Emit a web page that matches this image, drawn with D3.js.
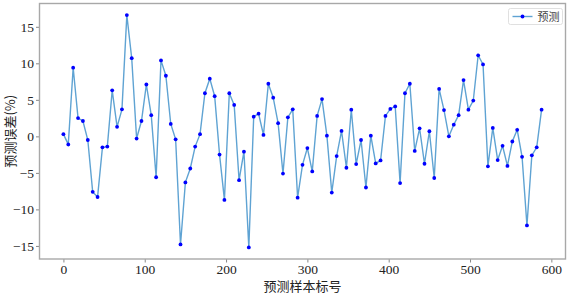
<!DOCTYPE html>
<html>
<head>
<meta charset="utf-8">
<script src="https://cdn.jsdelivr.net/npm/d3@7"></script>
<style>
  body { margin: 0; background: #fff; }
  svg { display: block; }
</style>
</head>
<body>
<svg id="chart" width="578" height="296"></svg>
<script>
// prediction error (%) per test sample, one point every 6 samples
var errors = [
    0.3, -1.1, 9.4, 2.5, 2.1, -0.5, -7.6, -8.3, -1.5, -1.4,
    6.3, 1.3, 3.7, 16.6, 10.7, -0.3, 2.1, 7.1, 2.9, -5.6,
    10.4, 8.3, 1.7, -0.4, -14.8, -6.3, -4.4, -1.4, 0.3, 5.9,
    7.9, 5.5, -2.5, -8.7, 5.9, 4.3, -6.0, -2.1, -15.2, 2.7,
    3.1, 0.2, 7.2, 5.3, 1.8, -5.1, 2.6, 3.7, -8.4, -3.9,
    -1.6, -4.8, 2.8, 5.1, 0.1, -7.7, -2.7, 0.75, -4.3, 3.65,
    -3.8, -0.5, -7.0, 0.1, -3.7, -3.3, 2.8, 3.75, 4.1, -6.4,
    5.9, 7.2, -2.0, 1.1, -3.75, 0.7, -5.7, 6.5, 3.6, 0.0,
    1.6, 2.9, 7.7, 3.65, 4.9, 11.1, 9.85, -4.1, 1.15, -3.25,
    -1.3, -4.05, -0.7, 0.9, -2.8, -12.2, -2.6, -1.5, 3.65
];
var sampleStep = 6;
var xTicks = [ 0, 100, 200, 300, 400, 500, 600 ];
var yTicks = [ -15, -10, -5, 0, 5, 10, 15 ];
var seriesName = "预测";
var xLabel = "预测样本标号";
var yLabel = "预测误差(%)";

var svg = d3.select( "#chart" ),
    margin = { left: 39.5, right: 12.5, top: 3.5, bottom: 37 },
    w = 578 - margin.left - margin.right,
    h = 296 - margin.top - margin.bottom;

var points = errors.map( function( v, i ) {
    return { x: i * sampleStep, y: v };
});

// matplotlib style 5% padding on both axes
function padded( ext ) {
    var p = ( ext[ 1 ] - ext[ 0 ] ) * 0.05;
    return [ ext[ 0 ] - p, ext[ 1 ] + p ];
}

var xScale = d3.scaleLinear()
    .domain( padded( d3.extent( points, function( d ) { return d.x; } ) ) )
    .range( [ 0, w ] );

var yScale = d3.scaleLinear()
    .domain( padded( d3.extent( errors ) ) )
    .range( [ h, 0 ] );

var g = svg.append( "g" ).attr( "transform", "translate(" + margin.left + "," + margin.top + ")" );

var xAxis = g.append( "g" )
    .attr( "transform", "translate(0," + h + ")" )
    .call( d3.axisBottom( xScale ).tickValues( xTicks ).tickSize( 3.5 ).tickPadding( 2 ) );

var yAxis = g.append( "g" )
    .call( d3.axisLeft( yScale ).tickValues( yTicks ).tickSize( 3.5 ).tickPadding( 2 ) );

[ xAxis, yAxis ].forEach( function( a ) {
    a.select( ".domain" ).remove();
    a.selectAll( ".tick line" ).attr( "stroke", "#888" );
    a.selectAll( ".tick text" )
        .style( "font-family", "'Times New Roman', 'Liberation Serif', serif" )
        .style( "font-size", "13.5px" )
        .attr( "fill", "#222" );
});

var line = d3.line()
    .x( function( d ) { return xScale( d.x ); } )
    .y( function( d ) { return yScale( d.y ); } );

g.append( "path" )
    .datum( points )
    .attr( "d", line )
    .attr( "fill", "none" )
    .attr( "stroke", "#5fa3d3" )
    .attr( "stroke-width", 1.4 );

g.append( "g" )
    .selectAll( "circle" )
    .data( points )
    .enter()
    .append( "circle" )
    .attr( "cx", function( d ) { return xScale( d.x ); } )
    .attr( "cy", function( d ) { return yScale( d.y ); } )
    .attr( "r", 1.9 )
    .attr( "fill", "#0000ff" );

// frame
g.append( "rect" )
    .attr( "width", w )
    .attr( "height", h )
    .attr( "fill", "none" )
    .attr( "stroke", "#a8a8a8" )
    .attr( "stroke-width", 1.4 );

// legend
var legend = g.append( "g" ).attr( "transform", "translate(" + ( w - 57 ) + ",5)" );

legend.append( "rect" )
    .attr( "width", 54 )
    .attr( "height", 16 )
    .attr( "rx", 2 )
    .attr( "fill", "#fff" )
    .attr( "stroke", "#d8d8d8" )
    .attr( "stroke-width", 0.8 );

legend.append( "line" )
    .attr( "x1", 4 ).attr( "x2", 24 )
    .attr( "y1", 8 ).attr( "y2", 8 )
    .attr( "stroke", "#5fa3d3" )
    .attr( "stroke-width", 1.4 );

legend.append( "circle" )
    .attr( "cx", 14 ).attr( "cy", 8 ).attr( "r", 1.9 )
    .attr( "fill", "#0000ff" );

legend.append( "text" )
    .attr( "x", 29 ).attr( "y", 12.5 )
    .attr( "font-family", "Noto Sans CJK SC" )
    .attr( "font-size", 11 )
    .attr( "fill", "#444" )
    .text( seriesName );

// axis titles
svg.append( "text" )
    .attr( "x", margin.left + w / 2 )
    .attr( "y", 291 )
    .attr( "text-anchor", "middle" )
    .attr( "font-family", "Noto Sans CJK SC" )
    .attr( "font-size", 13 )
    .attr( "fill", "#222" )
    .text( xLabel );

svg.append( "text" )
    .attr( "transform", "translate(15," + ( margin.top + h / 2 ) + ") rotate(-90)" )
    .attr( "text-anchor", "middle" )
    .attr( "font-family", "Noto Sans CJK SC" )
    .attr( "font-size", 13 )
    .attr( "fill", "#222" )
    .text( yLabel );
</script>
</body>
</html>
